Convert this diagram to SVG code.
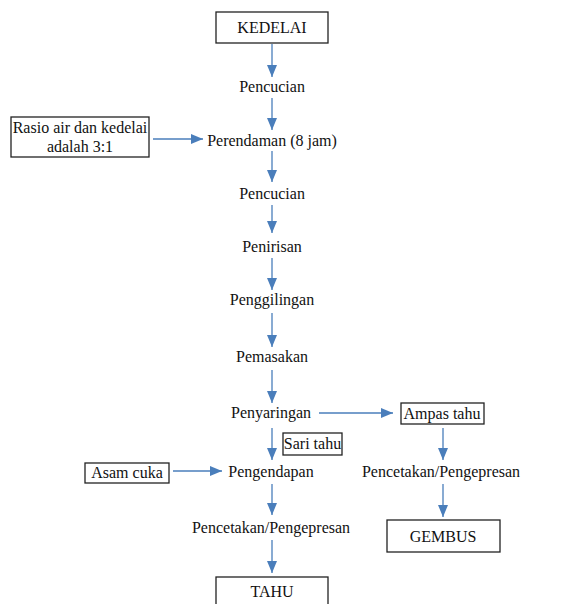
<svg xmlns="http://www.w3.org/2000/svg" width="579" height="604" viewBox="0 0 579 604">
<defs>
<marker id="ah" viewBox="0 0 12 10" refX="12" refY="5" markerWidth="12" markerHeight="10" markerUnits="userSpaceOnUse" orient="auto">
<path d="M0,0 L12,5 L0,10 Z" fill="#4a7ebb"/>
</marker>
<style>
text{font-family:"Liberation Serif","Times New Roman",serif;font-size:16px;fill:#111;text-anchor:middle}
.box{fill:#fff;stroke:#222;stroke-width:1.3}
.c line{stroke:#4a7ebb;stroke-width:1.3;marker-end:url(#ah)}
</style>
</defs>
<rect width="579" height="604" fill="#fff"/>
<g class="c" id="connectors">
<line x1="272" y1="44" x2="272" y2="77"/>
<line x1="272" y1="98" x2="272" y2="130"/>
<line x1="153" y1="139" x2="203" y2="139"/>
<line x1="272" y1="151" x2="272" y2="182"/>
<line x1="272" y1="205" x2="272" y2="233"/>
<line x1="272" y1="258" x2="272" y2="290"/>
<line x1="272" y1="313" x2="272" y2="347"/>
<line x1="272" y1="370" x2="272" y2="403"/>
<line x1="319" y1="413" x2="393" y2="413"/>
<line x1="272" y1="428" x2="272" y2="460"/>
<line x1="173" y1="471" x2="222" y2="471"/>
<line x1="272" y1="484" x2="272" y2="515"/>
<line x1="272" y1="540" x2="272" y2="573"/>
<line x1="443" y1="428" x2="443" y2="460"/>
<line x1="443" y1="484" x2="443" y2="517"/>
</g>
<g id="kedelai"><rect class="box" x="216" y="12" width="112" height="31"/><text x="272" y="33">KEDELAI</text></g>
<g id="pencucian1"><text x="272" y="92">Pencucian</text></g>
<g id="rasio"><rect class="box" x="11" y="117" width="138" height="40"/><text x="80" y="133">Rasio air dan kedelai</text><text x="80" y="152">adalah 3:1</text></g>
<g id="perendaman"><text x="272" y="146">Perendaman (8 jam)</text></g>
<g id="pencucian2"><text x="272" y="199">Pencucian</text></g>
<g id="penirisan"><text x="272" y="252">Penirisan</text></g>
<g id="penggilingan"><text x="272" y="305">Penggilingan</text></g>
<g id="pemasakan"><text x="272" y="362">Pemasakan</text></g>
<g id="penyaringan"><text x="271" y="418">Penyaringan</text></g>
<g id="ampas"><rect class="box" x="401" y="403" width="83" height="21"/><text x="442" y="419">Ampas tahu</text></g>
<g id="saritahu"><rect class="box" x="283" y="433" width="59" height="22"/><text x="312.5" y="449">Sari tahu</text></g>
<g id="asamcuka"><rect class="box" x="85" y="463" width="84" height="20"/><text x="127" y="478">Asam cuka</text></g>
<g id="pengendapan"><text x="271" y="477">Pengendapan</text></g>
<g id="pencetakan2"><text x="441" y="477">Pencetakan/Pengepresan</text></g>
<g id="pencetakan1"><text x="271" y="533">Pencetakan/Pengepresan</text></g>
<g id="gembus"><rect class="box" x="387" y="520" width="113" height="32"/><text x="443" y="542">GEMBUS</text></g>
<g id="tahu"><rect class="box" x="216" y="577" width="112" height="32"/><text x="272" y="597">TAHU</text></g>
</svg>
